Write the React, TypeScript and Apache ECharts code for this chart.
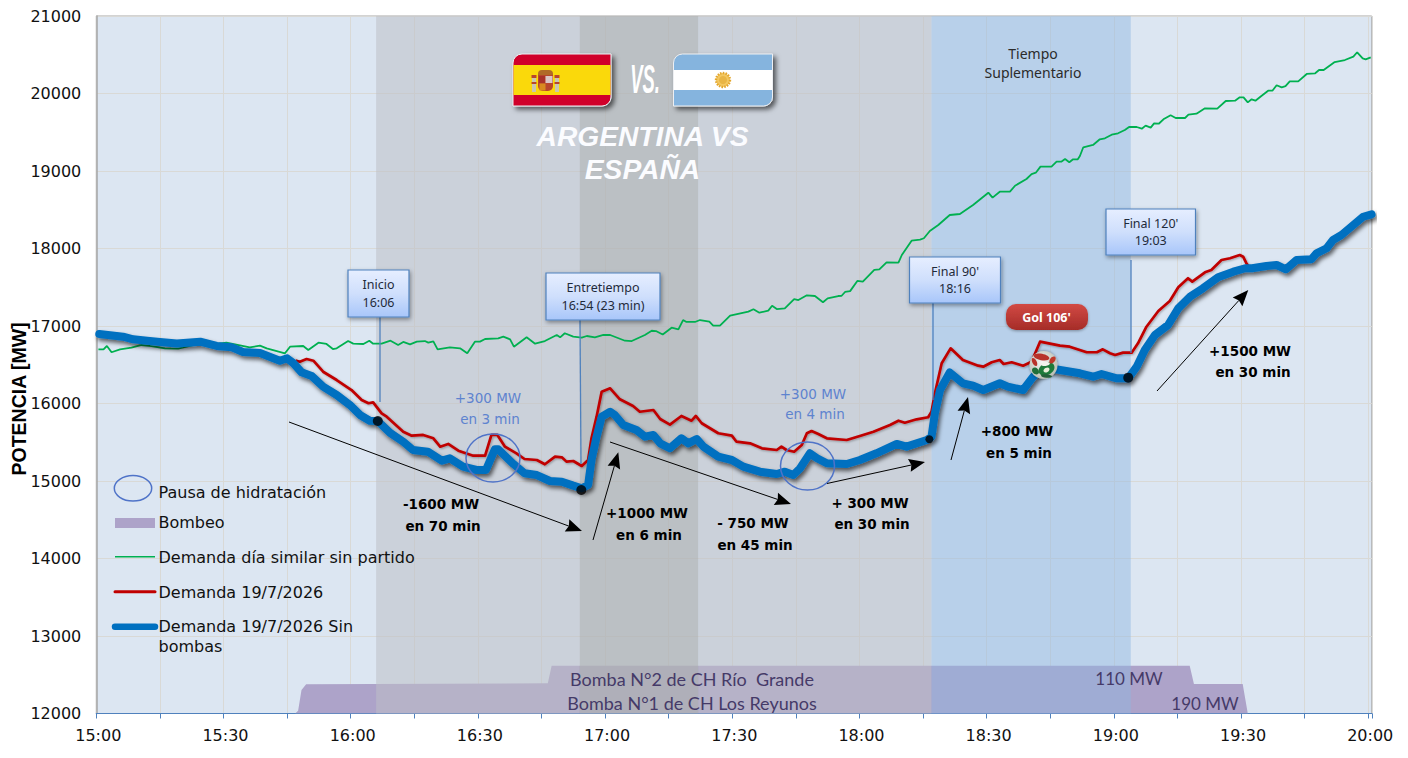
import React, { useEffect, useRef } from "react";
import * as echarts from "echarts";

// [minute after 15:00, MW]
const blueSeries: number[][] = [[0.7,16897],[6.3,16862],[8.7,16828],[12,16810],[15,16794],[19,16775],[24.5,16797],[28.4,16742],[32,16725],[34.6,16665],[38.6,16652],[43.3,16552],[45,16583],[46.5,16519],[48.4,16403],[50.8,16355],[53.5,16217],[56.7,16110],[59.8,15981],[62.2,15852],[64.5,15778],[66.4,15774],[69.3,15620],[72.4,15507],[74.7,15400],[78.2,15378],[81.5,15262],[83.4,15293],[86.5,15185],[89.7,15142],[91.9,15142],[94,15409],[94.8,15409],[98.4,15219],[101,15100],[103.9,15077],[107,15000],[109.8,14991],[112.5,14940],[114.5,14906],[116,14948],[116.8,15271],[118,15572],[119.2,15830],[121.2,15894],[122.3,15852],[124.3,15723],[127.4,15658],[129.4,15572],[131.4,15594],[133,15486],[135.3,15422],[138,15551],[139.6,15486],[141.6,15542],[143.2,15443],[146.7,15314],[149.9,15271],[152.6,15185],[156.5,15120],[160.5,15090],[162.4,15120],[164.4,15077],[166,15164],[168.3,15357],[170,15293],[172.3,15229],[177,15219],[180.1,15271],[184,15357],[188.8,15478],[191.1,15443],[195.9,15529],[197,15572],[197.8,15877],[199,16174],[201.3,16400],[204.4,16261],[206.8,16230],[209.2,16174],[213.1,16261],[215,16217],[218.6,16174],[221,16346],[223.5,16470],[227.3,16432],[232,16390],[235.1,16346],[237.1,16381],[240.7,16325],[243.4,16325],[245.4,16475],[247.3,16690],[249.7,16884],[252.8,17013],[255.2,17228],[258,17378],[261,17486],[264.6,17628],[268.2,17701],[271,17745],[272.6,17745],[276,17774],[278.4,17787],[280.6,17732],[283.1,17852],[286.6,17861],[287.8,17938],[290.2,18003],[291.7,18110],[293.7,18174],[296.5,18303],[298.8,18410],[300.8,18441]];

const redSeries: number[][] = [[47,16555],[48,16539],[49.6,16574],[51.2,16552],[53.5,16410],[56.7,16303],[60.2,16174],[62.6,16045],[64.2,16003],[65.3,16015],[67.3,15873],[68.5,15830],[72.4,15636],[74.4,15585],[77.1,15594],[79.5,15551],[81.1,15443],[83,15478],[85.4,15391],[88.9,15327],[91.7,15327],[93.2,15594],[94.6,15594],[96.4,15443],[99.1,15357],[101,15284],[103.9,15271],[105.8,15216],[108.2,15314],[109.8,15306],[110.9,15250],[112.5,15258],[114.5,15194],[116,15271],[116.8,15551],[118,15830],[119.2,16152],[121.2,16196],[123.5,16054],[126.6,15968],[128.2,15894],[131.4,15916],[133,15800],[135.3,15728],[138,15839],[140.4,15778],[141.4,15839],[142.8,15745],[146.7,15616],[149.9,15585],[151,15507],[154.2,15486],[157,15422],[160.5,15400],[161.6,15443],[162.8,15400],[164.6,15378],[166.4,15465],[167.6,15616],[168.7,15645],[170.3,15606],[172.3,15551],[177,15529],[180.1,15581],[183.3,15636],[187.2,15723],[189.2,15778],[190.7,15752],[193.5,15796],[196.2,15822],[197,15894],[197.8,16132],[199.4,16519],[201.5,16712],[204.4,16561],[208,16488],[209.2,16475],[211.2,16532],[213.1,16561],[214,16510],[215.9,16532],[218.6,16488],[220.6,16539],[222.6,16798],[227.3,16746],[229.6,16733],[233.6,16661],[236,16661],[237.4,16699],[239.1,16648],[240.3,16626],[242.2,16656],[244.2,16656],[245.7,16777],[247.7,16991],[250.5,17194],[253.2,17323],[255.2,17499],[257.5,17616],[258.5,17572],[261.5,17693],[263,17723],[265.4,17852],[267.4,17874],[269.7,17916],[270.5,17894],[271.2,17817],[272,17750]];

const greenSeries: number[][] = [[0.5,16699],[1.7,16699],[2.5,16742],[3.6,16661],[5.6,16699],[8.3,16720],[10.7,16755],[13,16740],[16.2,16712],[19.3,16708],[21.3,16733],[24,16770],[27,16760],[30.7,16785],[33,16760],[36.2,16725],[38.6,16746],[40.2,16712],[44.5,16648],[45.7,16733],[48.8,16742],[50,16690],[52.4,16785],[54.3,16768],[55.8,16703],[56.7,16712],[59.4,16806],[60.6,16772],[63,16768],[64.4,16810],[65.3,16772],[67.3,16772],[69.4,16810],[71.2,16755],[72.4,16794],[74,16764],[75.6,16798],[77.5,16806],[78.3,16785],[79.5,16802],[80.5,16699],[83.4,16725],[85.8,16712],[87.5,16648],[89.3,16798],[90.5,16798],[91.7,16832],[94.8,16841],[96,16862],[97.6,16828],[98.5,16733],[101.5,16854],[103.5,16772],[105.8,16806],[108.6,16884],[109.4,16854],[110.5,16906],[112.5,16862],[114.5,16850],[115.7,16871],[117.6,16854],[119.6,16884],[121.2,16884],[124.7,16810],[126.3,16806],[129.4,16884],[131,16939],[132,16935],[133.6,16890],[135.7,16978],[137.3,16957],[138.4,17077],[139.2,17052],[141.2,17052],[142.4,17077],[144.6,17056],[145.5,17004],[147.1,17004],[149.5,17133],[153.8,17185],[155,17216],[156.4,17172],[158.5,17198],[159.4,17262],[160.5,17219],[162.4,17228],[164.6,17348],[165.6,17335],[167.6,17396],[169.5,17387],[171.4,17306],[172.5,17357],[175,17387],[175.8,17390],[176.6,17439],[177.8,17450],[179.5,17581],[180.8,17572],[183.5,17723],[184.7,17731],[186.4,17822],[189.2,17817],[190,17916],[192.3,18101],[194.3,18114],[195.2,18132],[196.6,18226],[198.6,18303],[201.3,18432],[203.7,18445],[206.8,18561],[210.4,18720],[211.4,18656],[213.1,18733],[215.5,18733],[216.7,18810],[219.4,18897],[220.6,18961],[221.6,18978],[222.7,19056],[225.3,19056],[226.5,19120],[227.6,19120],[228.5,19155],[229.5,19112],[230.4,19151],[231.5,19151],[232,19194],[232.8,19306],[235.1,19336],[236.7,19409],[237.9,19422],[239.5,19468],[241,19487],[242.6,19529],[243.6,19568],[245.4,19568],[246.6,19546],[247.5,19585],[248.7,19559],[249.5,19615],[250.6,19610],[251.7,19667],[253.4,19719],[254.6,19684],[256.8,19684],[257.6,19727],[259.5,19740],[261.5,19809],[264.4,19804],[266.4,19903],[268.6,19907],[269.7,19951],[270.6,19951],[271.6,19886],[272.5,19925],[273.4,19907],[274.8,19968],[276.4,20036],[277.4,20036],[278.4,20106],[279.6,20080],[280.5,20095],[281.5,20157],[283.5,20157],[285.5,20252],[287.5,20261],[288.4,20303],[289.5,20303],[292.1,20406],[294.5,20432],[296.5,20475],[297.4,20532],[298.7,20454],[299.4,20441],[300.6,20467]];

const pumpSeries: number[][] = [[46.9,12000],[47.6,12035],[48.4,12303],[49.5,12377],[106.5,12390],[107.4,12617],[257.9,12617],[258.9,12380],[270.4,12380],[271.6,12000]];

const dotPoints: number[][] = [[66.4,15774],[114.4,14884],[196.5,15538],[243.4,16333]];
const dotSizes = [10, 10, 8, 10];

const bandEdges = [[66,114],[114,142],[142,197],[197,244]];
const bandColors = ["rgba(189,192,199,0.55)","rgba(176,178,180,0.745)","rgba(189,192,199,0.55)","rgba(145,183,225,0.47)"];

const seriesNames = ["Pausa de hidratación","Bombeo","Demanda día similar sin partido","Demanda 19/7/2026","Demanda 19/7/2026 Sin","bombas"];

const GRID = { left: 96.3, top: 16, width: 1275.5, height: 697.5 };
const MINUTE_START = 900;
const MAIN = '"DejaVu Sans", Verdana, sans-serif';
const NOTO = '"Noto Sans", sans-serif';
const FLOAT = 20;

const pad = (n: number) => String(n).padStart(2, "0");
const shifted = (list: number[][]) => list.map(([m, v]) => [MINUTE_START + m, v]);

const text = (t: string, x: number, y: number, font: string, fill: string, extra: any = {}, z = FLOAT) => ({
  type: "text", z, x, y, silent: true,
  style: { text: t, font, fill, textAlign: "center", textVerticalAlign: "middle", ...extra },
});

const arrow = (x1: number, y1: number, x2: number, y2: number, len = 16, half = 6.5) => {
  const a = Math.atan2(y2 - y1, x2 - x1);
  const c = Math.cos(a), s = Math.sin(a);
  const bx = x2 - len * c, by = y2 - len * s;
  const nx = x2 - (len - 2) * c, ny = y2 - (len - 2) * s;
  return [
    { type: "line", z: FLOAT, silent: true, shape: { x1, y1, x2: nx, y2: ny }, style: { stroke: "#000", lineWidth: 1 } },
    { type: "polygon", z: FLOAT, silent: true, shape: { points: [[x2, y2], [bx - half * s, by + half * c], [nx, ny], [bx + half * s, by - half * c]] }, style: { fill: "#000" } },
  ];
};

const callout = (x: number, y: number, w: number, h: number, l1: string, l2: string, sx1: number, sy1: number, sx2: number, sy2: number) => [
  { type: "line", z: FLOAT, silent: true, shape: { x1: sx1, y1: sy1, x2: sx2, y2: sy2 }, style: { stroke: "#4F81BD", lineWidth: 1.3 } },
  { type: "rect", z: FLOAT, silent: true, shape: { x, y, width: w, height: h },
    style: { fill: { type: "linear", x: 0, y: 0, x2: 0, y2: 1, colorStops: [{ offset: 0, color: "#E6EEFF" }, { offset: 0.5, color: "#CFDFFC" }, { offset: 1, color: "#A8C6FA" }] }, stroke: "#4F81BD", lineWidth: 1.2, shadowBlur: 4, shadowColor: "rgba(0,0,0,0.4)", shadowOffsetX: 1, shadowOffsetY: 2 } },
  text(l1, x + w / 2, y + h / 2 - 9, `12.5px ${NOTO}`, "#1F2A3A"),
  text(l2, x + w / 2, y + h / 2 + 8.5, `12.5px ${NOTO}`, "#1F2A3A"),
];

const bold = (t1: string, x1: number, y1: number, t2: string, x2: number, y2: number) => [
  text(t1, x1, y1, `bold 13.5px ${MAIN}`, "#000"),
  text(t2, x2, y2, `bold 13.5px ${MAIN}`, "#000"),
];
const blueNote = (t1: string, x1: number, y1: number, t2: string, x2: number, y2: number) => [
  text(t1, x1, y1, `13.5px ${MAIN}`, "#5E83CF"),
  text(t2, x2, y2, `13.5px ${MAIN}`, "#5E83CF"),
];

const ring = (cx: number, cy: number, rx: number, ry: number) => ({
  type: "ellipse", z: FLOAT, silent: true, shape: { cx, cy, rx, ry }, style: { fill: "none", stroke: "#4F73C8", lineWidth: 1.5 },
});

const spainFlag = () => {
  const x = 513, y = 54, w = 98, h = 52;
  return [
    { type: "rect", z: FLOAT, silent: true, shape: { x, y, width: w, height: h, r: [9, 0, 9, 0] },
      style: { fill: "#D0022C", stroke: "#EDEFF2", lineWidth: 1, shadowBlur: 5, shadowColor: "rgba(0,0,0,0.6)", shadowOffsetX: 3, shadowOffsetY: 3 } },
    { type: "rect", z: FLOAT, silent: true, shape: { x: x + 0.5, y: 65, width: w - 1, height: 30 }, style: { fill: "#FAD90B" } },
    { type: "rect", z: FLOAT, silent: true, shape: { x: 538, y: 75, width: 15, height: 16, r: [0, 0, 5, 5] }, style: { fill: "#B8472C" } },
    { type: "rect", z: FLOAT, silent: true, shape: { x: 545.5, y: 76, width: 7, height: 7 }, style: { fill: "#D9C7C7" } },
    { type: "rect", z: FLOAT, silent: true, shape: { x: 539, y: 76, width: 6, height: 7 }, style: { fill: "#A8322A" } },
    { type: "rect", z: FLOAT, silent: true, shape: { x: 539.5, y: 83.5, width: 6, height: 7 }, style: { fill: "#D88A1F" } },
    { type: "rect", z: FLOAT, silent: true, shape: { x: 538, y: 70, width: 15, height: 5, r: [4, 4, 0, 0] }, style: { fill: "#B06A28" } },
    { type: "rect", z: FLOAT, silent: true, shape: { x: 532, y: 75, width: 4, height: 17 }, style: { fill: "#C9C7B0" } },
    { type: "rect", z: FLOAT, silent: true, shape: { x: 555, y: 75, width: 4, height: 17 }, style: { fill: "#C9C7B0" } },
    { type: "rect", z: FLOAT, silent: true, shape: { x: 531.5, y: 75, width: 5, height: 3 }, style: { fill: "#B8472C" } },
    { type: "rect", z: FLOAT, silent: true, shape: { x: 554.5, y: 75, width: 5, height: 3 }, style: { fill: "#B8472C" } },
    { type: "rect", z: FLOAT, silent: true, shape: { x: 531.5, y: 82, width: 5, height: 2 }, style: { fill: "#B8472C" } },
    { type: "rect", z: FLOAT, silent: true, shape: { x: 554.5, y: 82, width: 5, height: 2 }, style: { fill: "#B8472C" } },
  ];
};

const argentinaFlag = () => {
  const x = 673.5, y = 54, w = 99, h = 52;
  return [
    { type: "rect", z: FLOAT, silent: true, shape: { x, y, width: w, height: h, r: [9, 0, 9, 0] },
      style: { fill: "#85B4DE", stroke: "#EDEFF2", lineWidth: 1, shadowBlur: 5, shadowColor: "rgba(0,0,0,0.6)", shadowOffsetX: 3, shadowOffsetY: 3 } },
    { type: "rect", z: FLOAT, silent: true, shape: { x: x + 0.5, y: 70, width: w - 1, height: 20 }, style: { fill: "#FFFFFF" } },
    { type: "circle", z: FLOAT, silent: true, shape: { cx: 723, cy: 80, r: 7 }, style: { fill: "#F3C760", stroke: "#E3A52B", lineWidth: 2.4, lineDash: [1.5, 1.2] } },
    { type: "circle", z: FLOAT, silent: true, shape: { cx: 723, cy: 80, r: 4 }, style: { fill: "#E9B544" } },
  ];
};

const ball = () => {
  const cx = 1043.5, cy = 365;
  const patch = (dx: number, dy: number, rx: number, ry: number, rot: number, fill: string) => ({
    type: "ellipse", z: FLOAT, silent: true, x: cx + dx, y: cy + dy, rotation: rot, shape: { cx: 0, cy: 0, rx, ry }, style: { fill },
  });
  return [
    { type: "circle", z: FLOAT, silent: true, shape: { cx, cy, r: 14 },
      style: { fill: { type: "radial", x: 0.45, y: 0.4, r: 0.65, colorStops: [{ offset: 0, color: "#F6F6F4" }, { offset: 1, color: "#B5BAAE" }] }, shadowBlur: 3, shadowColor: "rgba(0,0,0,0.45)" } },
    patch(3, 4, 8.5, 6, 0.5, "#1E7A3A"),
    patch(-8, 6, 4, 3, -0.8, "#1F6E3A"),
    patch(-2, -8, 8, 3.2, -0.2, "#B8322A"),
    patch(9, -5, 4, 2.6, 0.9, "#C0392B"),
    patch(-9, -3, 4.4, 2.2, -1.1, "#B8322A"),
    patch(3, 11, 5.5, 1.8, -0.1, "#24603A"),
    patch(2, -1, 4.4, 2, 0.1, "#F2F2EC"),
    patch(3, 5, 3.2, 2.2, 0.5, "#E8ECD8"),
  ];
};

const legendGraphics = () => [
  ring(133, 488.3, 18.7, 12.7),
  { type: "rect", z: FLOAT, silent: true, shape: { x: 115, y: 518, width: 40, height: 10 }, style: { fill: "#ADA3C9" } },
  { type: "line", z: FLOAT, silent: true, shape: { x1: 115, y1: 556.7, x2: 155, y2: 556.7 }, style: { stroke: "#00B050", lineWidth: 1.5 } },
  { type: "line", z: FLOAT, silent: true, shape: { x1: 115, y1: 591.7, x2: 155, y2: 591.7 }, style: { stroke: "#C00000", lineWidth: 3, lineCap: "round" } },
  { type: "line", z: FLOAT, silent: true, shape: { x1: 115, y1: 626.7, x2: 155, y2: 626.7 }, style: { stroke: "#0070C0", lineWidth: 6.5, lineCap: "round" } },
  ...[492, 522, 557.5, 592, 626, 646].map((y, i) =>
    text(seriesNames[i], 158.5, y, `16px ${MAIN}`, "#111", { textAlign: "left" })),
];

const bombaShadow = { shadowBlur: 3, shadowColor: "rgba(40,30,60,0.55)", shadowOffsetX: 1, shadowOffsetY: 2 };

export default function App() {
  const ref = useRef<HTMLDivElement>(null);
  useEffect(() => {
    document.body.style.margin = "0";
    document.body.style.overflow = "hidden";
    const chart = echarts.init(ref.current!, undefined, { renderer: "svg" });
    chart.setOption({
      animation: false,
      backgroundColor: "#FFFFFF",
      grid: { ...GRID, show: true, backgroundColor: "#DCE6F2", borderColor: "#A6A6A6", borderWidth: 1 },
      xAxis: {
        type: "value", min: MINUTE_START, max: 1200.85, interval: 15,
        axisLine: { onZero: false, lineStyle: { color: "#4F81BD", width: 1.2 } },
        axisTick: { show: true, length: 5, lineStyle: { color: "#4F81BD", width: 1 } },
        splitLine: { show: true, lineStyle: { color: "#D9D9D6", width: 1 } },
        axisLabel: {
          margin: 14, color: "#111", fontFamily: MAIN, fontSize: 16, padding: [0, 0, 0, 4],
          formatter: (m: number) => (m % 30 === 0 ? `${pad(Math.floor(m / 60))}:${pad(m % 60)}` : ""),
        },
      },
      yAxis: {
        type: "value", min: 12000, max: 21000, interval: 1000,
        axisLine: { show: true, lineStyle: { color: "#A6A6A6", width: 1.5 } },
        axisTick: { show: false },
        splitLine: { show: true, lineStyle: { color: "#D9D9D6", width: 1 } },
        axisLabel: { margin: 15, color: "#111", fontFamily: MAIN, fontSize: 16, formatter: (v: number) => String(v) },
      },
      graphic: {
        elements: [
          ...spainFlag(),
          ...argentinaFlag(),
          { ...text("VS.", 645, 79, `italic bold 41px "Liberation Sans", sans-serif`, "#FFFFFF", { shadowBlur: 3, shadowColor: "rgba(0,0,0,0.6)", shadowOffsetX: 2, shadowOffsetY: 2 }), scaleX: 0.45 },
          text("ARGENTINA VS", 642.5, 136, `italic bold 28.2px "Liberation Sans", sans-serif`, "#FBFCFF"),
          text("ESPAÑA", 642.5, 169, `italic bold 28.2px "Liberation Sans", sans-serif`, "#FBFCFF"),
          text("Tiempo", 1033, 53, `14px ${NOTO}`, "#2B2B2B"),
          text("Suplementario", 1033, 72, `14px ${NOTO}`, "#2B2B2B"),
          { type: "text", z: FLOAT, silent: true, x: 19, y: 399, rotation: Math.PI / 2,
            style: { text: "POTENCIA [MW]", font: `bold 19.5px "Liberation Sans", sans-serif`, fill: "#000", textAlign: "center", textVerticalAlign: "middle" } },
          ...callout(348, 270, 61, 47, "Inicio", "16:06", 380, 317, 380, 402),
          ...callout(546, 273, 114, 47, "Entretiempo", "16:54 (23 min)", 580, 320, 581, 464),
          ...callout(909.5, 257, 91, 46, "Final 90'", "18:16", 933, 303, 933, 400),
          ...callout(1106, 209, 89.5, 46, "Final 120'", "19:03", 1131, 260, 1131, 353),
          { type: "rect", z: FLOAT, silent: true, shape: { x: 1006, y: 304, width: 82, height: 26, r: 10 },
            style: { fill: { type: "linear", x: 0, y: 0, x2: 0, y2: 1, colorStops: [{ offset: 0, color: "#D24A44" }, { offset: 1, color: "#A52C28" }] }, shadowBlur: 3, shadowColor: "rgba(0,0,0,0.35)", shadowOffsetY: 1 } },
          text("Gol 106'", 1046.5, 317, `bold 12.5px ${NOTO}`, "#FFFFFF"),
          ...ball(),
          ring(493, 458, 27, 24),
          ring(807.5, 466, 27, 24),
          ...arrow(289, 422, 582, 531),
          ...arrow(593, 540, 618.3, 452.3),
          ...arrow(610, 442, 791, 504),
          ...arrow(827, 483.5, 925, 462),
          ...arrow(951, 460, 968, 397),
          ...arrow(1157, 391, 1248.3, 290),
          ...bold("-1600 MW", 441, 504, "en 70 min", 443, 526),
          ...bold("+1000 MW", 647, 513, "en 6 min", 649, 535),
          ...bold("- 750 MW", 753, 523, "en 45 min", 755, 545),
          ...bold("+ 300 MW", 870, 503, "en 30 min", 872, 524),
          ...bold("+800 MW", 1017, 431, "en 5 min", 1019, 453),
          ...bold("+1500 MW", 1250, 351, "en 30 min", 1253, 372),
          ...blueNote("+300 MW", 488, 398, "en 3 min", 490, 419),
          ...blueNote("+300 MW", 813, 394, "en 4 min", 815, 414),
          text("Bomba N°2 de CH Río  Grande", 692, 679, `18px Lato, sans-serif`, "#453A68", bombaShadow),
          text("Bomba N°1 de CH Los Reyunos", 692, 703, `18px Lato, sans-serif`, "#453A68", bombaShadow),
          text("110 MW", 1129, 678, `17px Lato, sans-serif`, "#453A68", bombaShadow),
          text("190 MW", 1205, 703, `17px Lato, sans-serif`, "#453A68", bombaShadow),
          ...legendGraphics(),
        ],
      },
      series: [
        {
          name: "Bombeo", type: "line", z: 1, data: shifted(pumpSeries), showSymbol: false, silent: true,
          lineStyle: { width: 0 }, areaStyle: { color: "#ADA3C9", opacity: 1, origin: "start" },
        },
        {
          name: "Bandas", type: "line", z: 3, data: [], silent: true,
          markArea: {
            z: 2, silent: true,
            data: bandEdges.map(([a, b], i) => [
              { xAxis: MINUTE_START + a, itemStyle: { color: bandColors[i] } },
              { xAxis: MINUTE_START + b },
            ]),
          },
        },
        {
          name: seriesNames[2], type: "line", z: 3, data: shifted(greenSeries), showSymbol: false, silent: true,
          lineStyle: { color: "#00B050", width: 1.8 },
        },
        {
          name: seriesNames[3], type: "line", z: 3, data: shifted(redSeries), showSymbol: false, silent: true,
          lineStyle: { color: "#C00000", width: 2.7, join: "round", shadowBlur: 2, shadowColor: "rgba(0,0,0,0.3)", shadowOffsetX: 1, shadowOffsetY: 1 },
        },
        {
          name: "Demanda 19/7/2026 Sin bombas", type: "line", z: 3, data: shifted(blueSeries), showSymbol: false, silent: true,
          lineStyle: { color: "#0070C0", width: 8, cap: "round", join: "round", shadowBlur: 4, shadowColor: "rgba(0,0,0,0.6)", shadowOffsetX: 2, shadowOffsetY: 3 },
        },
        {
          name: "Puntos", type: "scatter", z: 4, silent: true,
          data: shifted(dotPoints).map((p, i) => ({ value: p, symbolSize: dotSizes[i] })),
          itemStyle: { color: "#000" },
        },
      ],
    });
    return () => chart.dispose();
  }, []);
  return <div ref={ref} style={{ width: 1408, height: 758 }} />;
}
